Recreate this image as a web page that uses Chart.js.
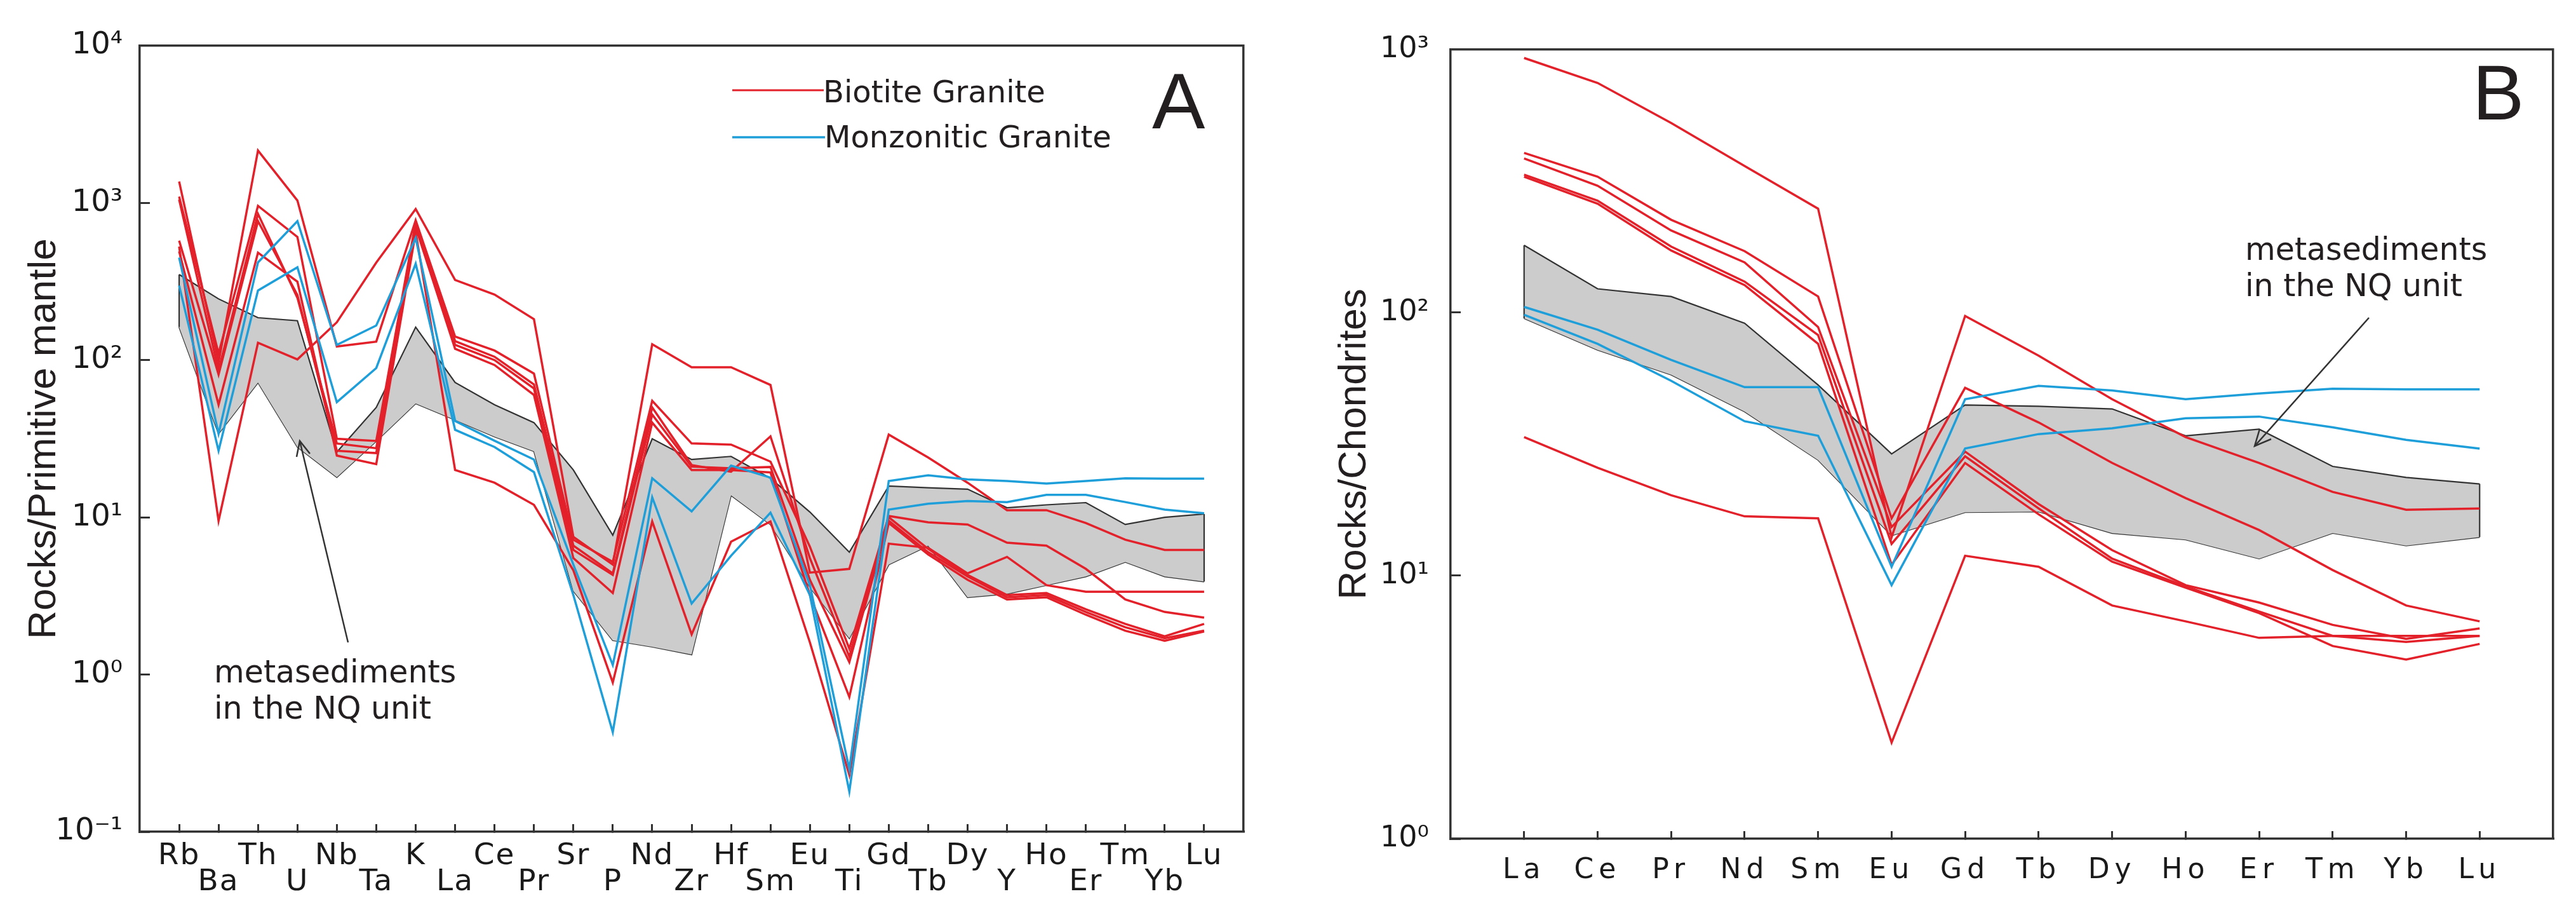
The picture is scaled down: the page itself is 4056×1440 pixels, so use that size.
<!DOCTYPE html>
<html>
<head>
<meta charset="utf-8">
<script src="https://cdn.jsdelivr.net/npm/chart.js@4.4.1/dist/chart.umd.min.js"></script>
<style>
  html, body { margin: 0; padding: 0; background: #fff; }
  #wrap { position: relative; width: 4056px; height: 1440px; overflow: hidden; }
  canvas { position: absolute; top: 0; }
  #chartA { left: 0; }
  #chartB { left: 2030px; }
  svg { position: absolute; left: 0; top: 0; pointer-events: none; }
</style>
</head>
<body>
<div id="wrap">
  <canvas id="chartA" width="2030" height="1440"></canvas>
  <canvas id="chartB" width="2026" height="1440"></canvas>
  <svg width="4056" height="1440" font-family="DejaVu Sans" fill="#231f20">
    <!-- legend, panel A -->
    <line x1="1153" y1="142" x2="1297" y2="142" stroke="#e3212b" stroke-width="3"/>
    <text x="1296" y="161" font-size="48">Biotite Granite</text>
    <line x1="1153" y1="216" x2="1299" y2="216" stroke="#1e9fda" stroke-width="3.5"/>
    <text x="1298" y="232" font-size="48">Monzonitic Granite</text>
    <text x="1814" y="202" font-size="125" font-family="Liberation Sans">A</text>
    <text x="3893" y="188" font-size="122" font-family="Liberation Sans">B</text>

    <!-- annotations -->
    <text x="337" y="1074" font-size="49">metasediments</text>
    <text x="337" y="1131" font-size="49">in the NQ unit</text>
    <g stroke="#333" stroke-width="2.5" fill="none">
      <line x1="548" y1="1011" x2="472" y2="694"/>
      <polyline points="467,719 472,694 488,714"/>
      <line x1="3730" y1="500" x2="3550" y2="702"/>
      <polyline points="3558,675 3550,702 3576,691"/>
    </g>
    <text x="3535" y="409" font-size="49">metasediments</text>
    <text x="3535" y="466" font-size="49">in the NQ unit</text>
  </svg>
</div>
<script>
const RED = '#e3212b';
const BLUE = '#1e9fda';
const INK = '#333333';
const BAND = '#cccccc';

// Panel A: primitive-mantle normalised trace elements
const elementsA = ['Rb','Ba','Th','U','Nb','Ta','K','La','Ce','Pr','Sr','P','Nd','Zr','Hf','Sm','Eu','Ti','Gd','Tb','Dy','Y','Ho','Er','Tm','Yb','Lu'];
const ticksA = [0.1, 1, 10, 100, 1000, 10000];
const tickLabelsA = ['10⁻¹', '10⁰', '10¹', '10²', '10³', '10⁴'];

// biotite granite samples
const biotiteA1 = [527, 9.5, 129, 101, 174, 417, 914, 323, 261, 182, 7.5, 5.0, 126, 90, 90, 69.5, 4.45, 4.7, 33.6, 24, 16.6, 11.1, 11.1, 9.2, 7.2, 6.2, 6.2];
const biotiteA2 = [1368, 97, 2150, 1035, 122, 131, 774, 141, 115, 82, 7.2, 5.2, 55, 29.5, 29, 22.6, 6.5, 1.46, 10.2, 9.3, 9.0, 6.9, 6.6, 4.7, 3.0, 2.5, 2.3];
const biotiteA3 = [1096, 110, 957, 607, 31.6, 30.6, 752, 132, 105, 70, 6.6, 4.4, 50, 21.5, 19.5, 32.7, 5.5, 1.3, 10, 6.3, 4.3, 3.2, 3.3, 2.6, 2.1, 1.75, 2.1];
const biotiteA4 = [1050, 86, 851, 249, 29.5, 27.5, 726, 125, 100, 66, 6.2, 4.3, 45, 21, 20.5, 20.9, 4.0, 1.2, 9.5, 6.0, 4.2, 3.1, 3.2, 2.5, 2.0, 1.7, 1.9];
const biotiteA5 = [575, 81, 765, 259, 26.5, 25.6, 700, 118, 93, 60, 5.5, 3.3, 40, 20, 20, 19.3, 3.2, 0.72, 9.2, 5.8, 4.0, 3.0, 3.1, 2.4, 1.9, 1.64, 1.88];
const biotiteA6 = [491, 52, 482, 315, 24.7, 21.8, 652, 20, 16.6, 12, 4.6, 0.89, 9.4, 1.8, 7.0, 9.4, 1.6, 0.23, 6.8, 6.4, 4.4, 5.6, 3.7, 3.36, 3.36, 3.36, 3.36];
// monzonitic granite samples
const monzoA1 = [449, 34, 418, 765, 125, 166, 597, 41, 30.7, 23.3, 5.0, 1.15, 17.7, 10.9, 21.3, 17.9, 3.7, 0.25, 17, 18.5, 17.4, 17, 16.4, 17, 17.7, 17.6, 17.6];
const monzoA2 = [298, 26.5, 277, 389, 54, 89, 410, 36, 28, 19.4, 3.2, 0.43, 13.4, 2.83, 5.7, 10.7, 3.2, 0.18, 11.2, 12.2, 12.7, 12.5, 13.9, 13.9, 12.5, 11.2, 10.6];
// metasediment envelope
const bandUpperA = [350, 245, 186, 178, 26, 50, 162, 72, 52, 40, 20, 7.7, 31.6, 23.3, 24.4, 17.7, 10.8, 6.0, 15.8, 15.4, 15.1, 11.5, 12, 12.4, 9.0, 10, 10.5];
const bandLowerA = [162, 34, 72, 28, 18, 30.5, 53, 41.7, 32.6, 26.3, 3.4, 1.65, 1.5, 1.34, 13.8, 9.0, 3.6, 1.7, 5.0, 6.6, 3.1, 3.26, 3.7, 4.2, 5.2, 4.2, 3.9];

// Panel B: chondrite normalised REE
const elementsB = ['La','Ce','Pr','Nd','Sm','Eu','Gd','Tb','Dy','Ho','Er','Tm','Yb','Lu'];
const ticksB = [1, 10, 100, 1000];
const tickLabelsB = ['10⁰', '10¹', '10²', '10³'];

const biotiteB1 = [927, 745, 525, 360, 248, 14.0, 97, 68.5, 46.8, 33.6, 26.8, 20.8, 17.8, 18.0];
const biotiteB2 = [404, 328, 225, 171, 115, 16.5, 51.7, 38.2, 26.8, 19.7, 14.9, 10.5, 7.7, 6.7];
const biotiteB3 = [385, 303, 205, 155, 88, 15.3, 29.6, 18.7, 12.5, 9.2, 7.9, 6.5, 5.75, 6.3];
const biotiteB4 = [334, 266, 178, 131, 82, 13.2, 28.4, 18, 11.6, 9.1, 7.3, 5.9, 5.6, 5.9];
const biotiteB5 = [328, 259, 172, 127, 76, 11.0, 26.8, 17.1, 11.3, 9.0, 7.2, 5.4, 4.8, 5.5];
const biotiteB6 = [33.6, 25.7, 20.2, 16.8, 16.5, 2.32, 11.9, 10.8, 7.7, 6.7, 5.8, 5.9, 5.9, 5.9];
const monzoB1 = [105, 86, 66, 52, 52, 10.8, 46.8, 52.6, 50.5, 46.8, 49.2, 51.3, 51, 51];
const monzoB2 = [98, 76, 55, 38.6, 34, 9.2, 30.4, 34.5, 36.3, 39.6, 40.2, 36.6, 32.8, 30.4];
const bandUpperB = [180, 123, 115, 91, 53, 29, 44.5, 44, 43, 34, 36, 26, 23.6, 22.3];
const bandLowerB = [95, 72, 58, 42, 27.5, 14.2, 17.4, 17.5, 14.5, 13.7, 11.6, 14.5, 13, 14];

Chart.defaults.font.family = 'DejaVu Sans';
Chart.defaults.color = '#1a1a1a';

// wider tracking for the tick labels (panel B is set that way)
const spacedTicks = {
  id: 'spacedTicks',
  beforeDraw(chart, args, opts) {
    if (!opts.spacing) return;
    const s = chart.scales.x;
    if (s._spaced) return;
    const draw = s.drawLabels;
    s.drawLabels = function (area) {
      this.ctx.save();
      this.ctx.letterSpacing = opts.spacing;
      draw.call(this, area);
      this.ctx.restore();
    };
    s._spaced = true;
  }
};

function line(data, color) {
  return { data, borderColor: color, borderWidth: 3.5, pointRadius: 0, fill: false, tension: 0 };
}

function edge(upper, lower, i) {
  return { data: [{ x: i, y: lower[i] }, { x: i, y: upper[i] }], borderColor: INK, borderWidth: 2.2, pointRadius: 0, fill: false };
}

function datasets(red, blue, upper, lower) {
  const last = upper.length - 1;
  return [
    ...blue.map(d => line(d, BLUE)),
    ...red.map(d => line(d, RED)),
    edge(upper, lower, 0),
    edge(upper, lower, last),
    { data: upper, borderColor: INK, borderWidth: 2.2, backgroundColor: BAND, fill: '+1', pointRadius: 0, tension: 0 },
    { data: lower, borderColor: INK, borderWidth: 2.2, fill: false, pointRadius: 0, tension: 0 }
  ];
}

function frame(pos, size) {
  const horiz = pos === 'top';
  return {
    type: 'linear', position: pos,
    grid: { display: false }, ticks: { display: false },
    border: { color: INK, width: 3.5 },
    afterFit: s => { if (horiz) s.height = size; else s.width = size; }
  };
}

function makeChart(id, o) {
  return new Chart(document.getElementById(id), {
    type: 'line',
    data: { labels: o.labels.map((_, i) => i), datasets: o.datasets },
    plugins: [spacedTicks],
    options: {
      responsive: false, animation: false, devicePixelRatio: 1,
      layout: { padding: 0 },
      plugins: { legend: { display: false }, tooltip: { enabled: false }, spacedTicks: { spacing: o.spacing } },
      scales: {
        x: {
          type: 'linear', min: -1, max: o.labels.length,
          afterBuildTicks: s => { s.ticks = o.labels.map((_, i) => ({ value: i })); },
          afterFit: s => { s.height = o.bottom; },
          ticks: { autoSkip: false, maxRotation: 0, minRotation: 0, padding: o.xPad, font: o.xFont,
                   callback: (v, i) => o.xLabel(i) },
          grid: { drawOnChartArea: false, tickLength: -12, color: INK, lineWidth: 3 },
          border: { color: INK, width: 3.5 }
        },
        y: {
          type: 'logarithmic', min: o.yTicks[0], max: o.yTicks[o.yTicks.length - 1],
          afterBuildTicks: s => { s.ticks = o.yTicks.map(v => ({ value: v })); },
          afterFit: s => { s.width = o.left; },
          ticks: { padding: o.yPad, font: o.yFont, callback: (v, i) => o.yLabels[i] },
          grid: { drawOnChartArea: false, tickLength: -16, color: INK, lineWidth: 3 },
          border: { color: INK, width: 3.5 },
          title: { display: true, text: o.title, color: '#231f20',
                   font: { family: 'Liberation Sans', size: 62 }, padding: { top: o.titlePad, bottom: 0 } }
        },
        xTop: frame('top', 71),
        yRight: frame('right', o.right)
      }
    }
  });
}

makeChart('chartA', {
  labels: elementsA,
  datasets: datasets([biotiteA1, biotiteA2, biotiteA3, biotiteA4, biotiteA5, biotiteA6],
                     [monzoA1, monzoA2], bandUpperA, bandLowerA),
  // staggered two-row element labels
  xLabel: i => (i % 2 ? ['', elementsA[i]] : elementsA[i]),
  xFont: { size: 47, lineHeight: '41px' }, xPad: 30, spacing: '2px',
  yTicks: ticksA, yLabels: tickLabelsA, yFont: { size: 48 }, yPad: 43,
  title: 'Rocks/Primitive mantle', titlePad: 33,
  left: 220, right: 72, bottom: 131
});

makeChart('chartB', {
  labels: elementsB,
  datasets: datasets([biotiteB1, biotiteB2, biotiteB3, biotiteB4, biotiteB5, biotiteB6],
                     [monzoB1, monzoB2], bandUpperB, bandLowerB),
  xLabel: i => elementsB[i],
  xFont: { size: 44 }, xPad: 36, spacing: '8px',
  yTicks: ticksB, yLabels: tickLabelsB, yFont: { size: 46 }, yPad: 50,
  title: 'Rocks/Chondrites', titlePad: 66,
  left: 254, right: 36, bottom: 120
});
</script>
</body>
</html>
